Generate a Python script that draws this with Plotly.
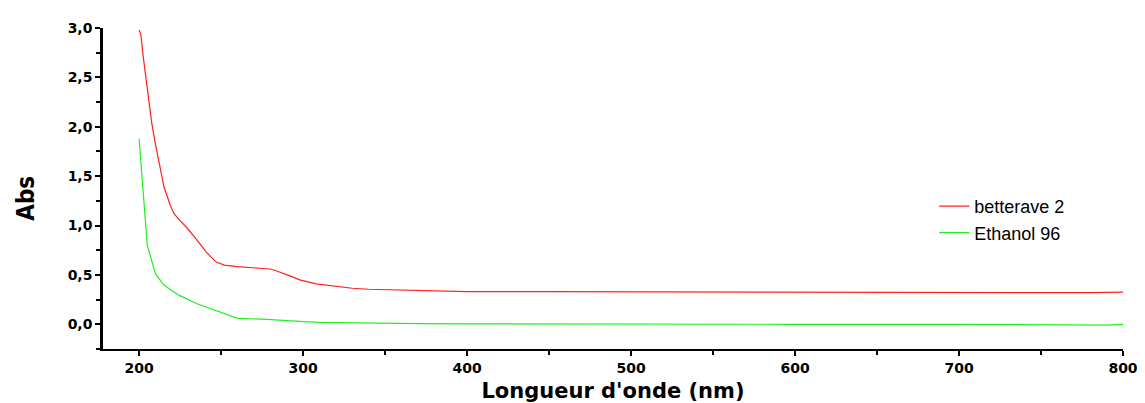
import plotly.graph_objects as go

# Wavelength (nm) and absorbance
wl_bet = [200, 201, 202.6, 204.7, 207.7, 209.8, 212.4, 215.2, 218.9, 221.3, 225, 229, 235, 241,
          247, 252, 260, 266, 275, 280, 284, 292, 298, 308, 320, 330, 340, 360, 380, 400, 450,
          500, 600, 700, 750, 780, 800]
abs_bet = [2.98, 2.94, 2.70, 2.43, 2.04, 1.84, 1.61, 1.39, 1.21, 1.12, 1.05, 0.98, 0.86, 0.73,
           0.63, 0.60, 0.585, 0.575, 0.565, 0.56, 0.54, 0.49, 0.45, 0.41, 0.385, 0.365, 0.355,
           0.345, 0.335, 0.33, 0.33, 0.328, 0.325, 0.325, 0.32, 0.32, 0.325]

wl_eth = [200, 201, 203, 205, 210, 215, 220, 225, 235, 240, 250, 260, 278, 290, 300, 310, 340,
          370, 400, 500, 600, 700, 740, 770, 790, 800]
abs_eth = [1.88, 1.67, 1.24, 0.80, 0.51, 0.40, 0.34, 0.29, 0.21, 0.18, 0.12, 0.06, 0.05, 0.035,
           0.027, 0.02, 0.01, 0.007, 0.005, 0.0, 0.0, 0.0, -0.005, -0.01, -0.008, 0.0]

series_names = ["betterave 2", "Ethanol 96"]
x_ticks = [200, 300, 400, 500, 600, 700, 800]
y_ticks = [0.0, 0.5, 1.0, 1.5, 2.0, 2.5, 3.0]

fig = go.Figure()
fig.add_trace(go.Scatter(x=wl_bet, y=abs_bet, mode="lines", name=series_names[0],
                         line=dict(color="#ff2020", width=1.2)))
fig.add_trace(go.Scatter(x=wl_eth, y=abs_eth, mode="lines", name=series_names[1],
                         line=dict(color="#20f020", width=1.2)))

tickfont = dict(family="DejaVu Sans, sans-serif", size=14, color="black", weight="bold")

# page is offset by the 8px body margin; margins compensate for it
L, R, T, B = 95, 30, 15, 61
W, H = 1145, 403
pw = W - L - R
ph = H - T - B

fig.update_layout(
    width=W, height=H,
    margin=dict(l=L, r=R, t=T, b=B),
    paper_bgcolor="white", plot_bgcolor="white",
    separators=", ",
    showlegend=True,
    legend=dict(x=0.815, y=(350 - 186) / ph, xanchor="left", yanchor="top",
                font=dict(family="Liberation Sans, Arial, sans-serif", size=18, color="black"),
                bgcolor="rgba(0,0,0,0)", tracegroupgap=0),
    xaxis=dict(range=[178, 800], tickvals=x_ticks, showgrid=False, zeroline=False,
               showline=True, linecolor="black", linewidth=2, ticks="outside",
               ticklen=5, tickwidth=1.5, tickcolor="black", tickfont=tickfont,
               minor=dict(dtick=50, ticks="outside", ticklen=4, tickcolor="black", tickwidth=1.5,
                          showgrid=False),
               title=dict(text="Longueur d'onde (nm)", standoff=9,
                          font=dict(family="DejaVu Sans, sans-serif", size=21,
                                    color="black", weight="bold"))),
    yaxis=dict(range=[-0.25, 3.0], tickvals=y_ticks, tickformat=".1f", showgrid=False,
               zeroline=False, showline=True, linecolor="black", linewidth=2.5,
               ticks="outside", ticklen=5, tickwidth=1.5, tickcolor="black", tickfont=tickfont,
               minor=dict(dtick=0.25, ticks="outside", ticklen=4, tickcolor="black",
                          tickwidth=1.5, showgrid=False)),
    annotations=[dict(text="Abs", x=(26 - 103) / pw, y=(350 - 197) / ph,
                      xref="paper", yref="paper", showarrow=False,
                      xanchor="center", yanchor="middle", textangle=-90,
                      font=dict(family="DejaVu Sans Condensed, Liberation Sans Narrow, sans-serif",
                                size=24, color="black", weight="bold"))],
)

fig.write_html("out.html")
